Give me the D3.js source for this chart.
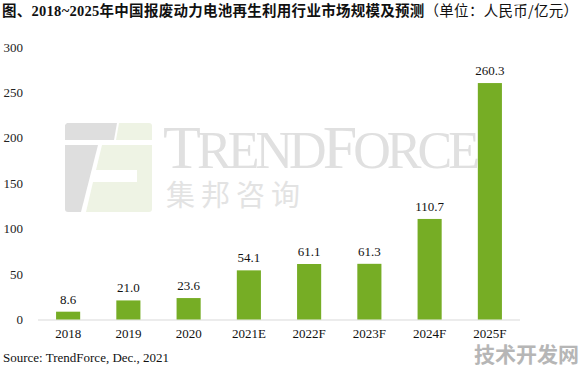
<!DOCTYPE html>
<html>
<head>
<meta charset="utf-8">
<script src="https://cdn.jsdelivr.net/npm/d3@7"></script>
<style>
  body { margin: 0; background: #fff; }
  svg { display: block; }
</style>
</head>
<body>
<div id="chart"></div>
<script>
// data
const years = ["2018", "2019", "2020", "2021E", "2022F", "2023F", "2024F", "2025F"];
const values = [8.6, 21.0, 23.6, 54.1, 61.1, 61.3, 110.7, 260.3];
const yTicks = [0, 50, 100, 150, 200, 250, 300];

const width = 584, height = 367;

const svg = d3.select("#chart").append("svg")
    .attr("width", width)
    .attr("height", height);

// watermark (logo)
const wm = svg.append("g");
wm.append("path")   // top bar, gray part
    .attr("d", "M67,123 L117,123 L114,140 L65,140 L65,125 Z")
    .attr("fill", "#dedede");
wm.append("path")   // top bar, green part
    .attr("d", "M119,123 L149,123 Q152,123 152,126 L152,140 L116,140 Z")
    .attr("fill", "#eef3e4");
wm.append("path")   // lower gray
    .attr("d", "M65,145 L98,145 L81,212 L68,212 Q65,212 65,209 Z")
    .attr("fill", "#dedede");
wm.append("path")   // lower green with cut
    .attr("d", "M102,145 L152,145 L152,209 Q152,212 149,212 L86,212 L93,182 L137,182 L137,170 L96,170 Z")
    .attr("fill", "#eef3e4");
const tf = wm.append("text")
    .attr("x", 163).attr("y", 168)
    .attr("textLength", 317)
    .style("font-family", "'Liberation Serif', serif")
    .style("fill", "#e0e0e0");
tf.append("tspan").style("font-size", "62px").text("T");
tf.append("tspan").style("font-size", "52px").text("REND");
tf.append("tspan").style("font-size", "62px").text("F");
tf.append("tspan").style("font-size", "52px").text("ORCE");
wm.append("text")
    .attr("x", 166).attr("y", 206)
    .style("font-family", "'Noto Sans CJK SC', sans-serif")
    .style("font-size", "29px")
    .style("letter-spacing", "6px")
    .style("fill", "#e3e3e3")
    .text("集邦咨询");

const x = d3.scaleBand()
    .domain(years)
    .range([38, 520])
    .paddingInner(0.6)
    .paddingOuter(0.3);

const y = d3.scaleLinear()
    .domain([0, 300])
    .range([319.5, 47]);

// baseline
svg.append("line")
    .attr("x1", 38).attr("x2", 520)
    .attr("y1", 320).attr("y2", 320)
    .attr("stroke", "#d9d9d9");

// y tick labels
svg.append("g")
    .selectAll("text")
    .data(yTicks)
    .enter()
    .append("text")
    .attr("x", 23)
    .attr("y", d => y(d))
    .attr("dy", "0.35em")
    .style("text-anchor", "end")
    .style("font-family", "'Liberation Serif', serif")
    .style("font-size", "13px")
    .style("fill", "#222")
    .text(d => d);

// bars
svg.append("g")
    .selectAll("rect")
    .data(values)
    .enter()
    .append("rect")
    .attr("x", (d, i) => x(years[i]))
    .attr("y", d => y(d))
    .attr("width", x.bandwidth())
    .attr("height", d => y(0) - y(d))
    .style("fill", "#76ad25");

// value labels
svg.append("g")
    .selectAll("text")
    .data(values)
    .enter()
    .append("text")
    .attr("x", (d, i) => x(years[i]) + x.bandwidth() / 2)
    .attr("y", d => y(d) - 8)
    .style("text-anchor", "middle")
    .style("font-family", "'Liberation Serif', serif")
    .style("font-size", "13px")
    .style("fill", "#111")
    .text(d => d.toFixed(1));

// category labels
svg.append("g")
    .selectAll("text")
    .data(years)
    .enter()
    .append("text")
    .attr("x", d => x(d) + x.bandwidth() / 2)
    .attr("y", 338)
    .style("text-anchor", "middle")
    .style("font-family", "'Liberation Serif', serif")
    .style("font-size", "13px")
    .style("fill", "#111")
    .text(d => d);

// title
const title = svg.append("text")
    .attr("x", 2).attr("y", 16)
    .attr("textLength", 576)
    .style("font-size", "14.5px")
    .style("fill", "#111");
title.append("tspan")
    .style("font-family", "'Noto Sans CJK SC', sans-serif")
    .style("font-weight", "bold")
    .text("图、");
title.append("tspan")
    .style("font-family", "'Liberation Serif', serif")
    .style("font-weight", "bold")
    .text("2018~2025");
title.append("tspan")
    .style("font-family", "'Noto Sans CJK SC', sans-serif")
    .style("font-weight", "bold")
    .text("年中国报废动力电池再生利用行业市场规模及预测");
title.append("tspan")
    .style("font-family", "'Noto Sans CJK SC', sans-serif")
    .style("font-weight", "normal")
    .text("（单位：人民币/亿元）");

// source
svg.append("text")
    .attr("x", 3).attr("y", 362)
    .style("font-family", "'Liberation Serif', serif")
    .style("font-size", "13px")
    .style("fill", "#111")
    .text("Source: TrendForce, Dec., 2021");

// site watermark
svg.append("text")
    .attr("x", 579).attr("y", 362)
    .style("text-anchor", "end")
    .style("font-family", "'Noto Sans CJK SC', sans-serif")
    .style("font-weight", "bold")
    .style("font-size", "21px")
    .style("fill", "#aaaaaa")
    .style("opacity", 0.85)
    .text("技术开发网");
</script>
</body>
</html>
